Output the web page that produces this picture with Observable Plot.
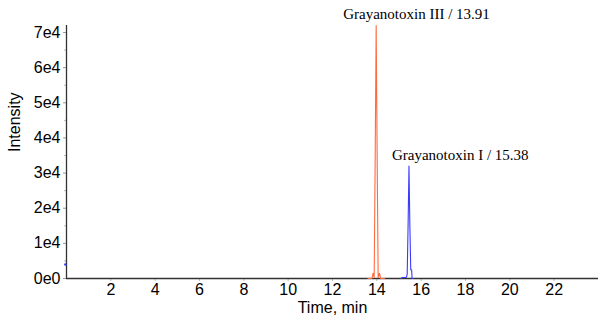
<!DOCTYPE html>
<html>
<head>
<meta charset="utf-8">
<script src="https://cdn.jsdelivr.net/npm/d3@7"></script>
<script src="https://cdn.jsdelivr.net/npm/@observablehq/plot@0.6"></script>
<style>
  html, body { margin: 0; padding: 0; background: #fff; }
  #chart svg { display: block; }
</style>
</head>
<body>
<div id="chart"></div>
<script>
// Grayanotoxin III trace (time in min, intensity)
const g3Time = [13.6, 13.78, 13.83, 13.88, 13.92, 13.97, 14.02, 14.06, 14.12, 14.17, 14.35];
const g3Int  = [0, 0, 1500, 300, 30000, 72000, 30000, 300, 1500, 0, 0];
// Grayanotoxin I trace
const g1Time = [15.1, 15.15, 15.33, 15.37, 15.41, 15.45, 15.49, 15.53, 15.57, 15.59, 15.65];
const g1Int  = [0, 300, 300, 1200, 15000, 32000, 15000, 2500, 2500, 0, 0];
// stray start point of trace
const startTime = [-0.05];
const startInt = [4000];
// peak labels
const peakNames = ["Grayanotoxin III / 13.91", "Grayanotoxin I / 15.38"];
const peakTimes = [13.97, 15.45];
const peakHeights = [72000, 32000];
const peakColors = ["#ff6b3d", "#3a3aff"];
// ticks
const xTicks = [2, 4, 6, 8, 10, 12, 14, 16, 18, 20, 22];
const yTicks = [0, 10000, 20000, 30000, 40000, 50000, 60000, 70000];
const yTickLabels = ["0e0", "1e4", "2e4", "3e4", "4e4", "5e4", "6e4", "7e4"];
const yMinorTicks = [5000, 15000, 25000, 35000, 45000, 55000, 65000];

const g3 = g3Time.map((t, i) => ({t, v: g3Int[i]}));
const g1 = g1Time.map((t, i) => ({t, v: g1Int[i]}));
const st = startTime.map((t, i) => ({t, v: startInt[i]}));
const labels = peakNames.map((n, i) => ({name: n, t: peakTimes[i], v: peakHeights[i]}));
const serif = "'Liberation Serif', 'Times New Roman', serif";

const plot = Plot.plot({
  width: 601,
  height: 320,
  marginLeft: 66,
  marginRight: 3,
  marginTop: 25,
  marginBottom: 42,
  style: {fontFamily: "'Liberation Sans', Arial, sans-serif", fontSize: "16px", color: "#000", background: "#fff"},
  x: {domain: [0, 24], label: null},
  y: {domain: [0, 72000], label: null},
  marks: [
    Plot.axisX({ticks: xTicks, tickSize: 3, tickPadding: 2, stroke: "#bbb", fill: "#000", fontSize: 16, tickFormat: d => d}),
    Plot.axisY({ticks: yTicks, tickSize: 3, tickPadding: 3, tickFormat: d => yTickLabels[yTicks.indexOf(d)], fill: "#000", stroke: "#999", fontSize: 16}),
    Plot.axisY({ticks: yMinorTicks, tickSize: 2, tickFormat: () => "", stroke: "#bbb"}),
    Plot.text(["Time, min"], {frameAnchor: "bottom", dy: 34, fontSize: 16, fill: "#000"}),
    Plot.text(["Intensity"], {frameAnchor: "left", dx: -52, rotate: -90, fontSize: 16, fill: "#000"}),
    Plot.ruleY([0], {stroke: "#333", strokeWidth: 1.3}),
    Plot.ruleX([0], {stroke: "#333", strokeWidth: 1.3}),
    Plot.line(g3, {x: "t", y: "v", stroke: peakColors[0], strokeWidth: 1.1}),
    Plot.line(g1, {x: "t", y: "v", stroke: peakColors[1], strokeWidth: 1.1}),
    Plot.dot(st, {x: "t", y: "v", r: 1.3, fill: "#3a3aff", stroke: null}),
    Plot.text([labels[0]], {x: "t", y: "v", text: "name", textAnchor: "start", dx: -33, dy: -11,
      fontFamily: serif, fontSize: 15, fill: "#000"}),
    Plot.text([labels[1]], {x: "t", y: "v", text: "name", textAnchor: "start", dx: -17, dy: -11,
      fontFamily: serif, fontSize: 15, fill: "#000"})
  ]
});
document.getElementById("chart").appendChild(plot);
</script>
</body>
</html>
